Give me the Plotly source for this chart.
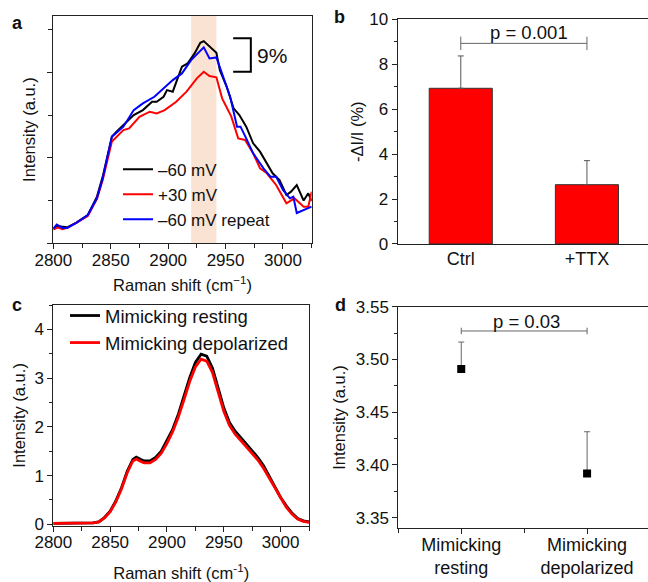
import plotly.graph_objects as go

# ---------------- Panel a data ----------------
a_black_x = [2800, 2803, 2812, 2820, 2830, 2838, 2843, 2851, 2855, 2861, 2870, 2878, 2886, 2890, 2896, 2899,
             2904, 2912, 2917, 2923, 2928, 2931, 2936, 2942, 2945, 2951, 2957, 2962, 2968, 2974, 2980, 2986,
             2991, 2997, 3003, 3007, 3012, 3018, 3022, 3025]
a_black_y = [0.175, 0.203, 0.187, 0.242, 0.331, 0.546, 0.780, 1.248, 1.306, 1.384, 1.501, 1.559, 1.657, 1.657,
             1.715, 1.793, 1.774, 2.066, 2.105, 2.222, 2.347, 2.366, 2.300, 2.230, 2.027, 1.832, 1.579, 1.501,
             1.365, 1.170, 1.072, 0.936, 0.819, 0.741, 0.565, 0.604, 0.682, 0.500, 0.585, 0.495]
a_red_x = [2800, 2804, 2808, 2812, 2820, 2830, 2838, 2843, 2851, 2861, 2866, 2875, 2884, 2890, 2897, 2907,
           2916, 2925, 2931, 2936, 2942, 2947, 2955, 2961, 2967, 2974, 2980, 2986, 2994, 3003, 3010, 3018,
           3022, 3025]
a_red_y = [0.160, 0.185, 0.165, 0.180, 0.240, 0.320, 0.520, 0.740, 1.190, 1.325, 1.345, 1.481, 1.540, 1.520,
           1.559, 1.657, 1.774, 1.930, 2.008, 1.957, 1.942, 1.696, 1.482, 1.228, 1.209, 1.053, 0.877, 0.819,
           0.682, 0.468, 0.526, 0.429, 0.429, 0.604]
a_blue_x = [2800, 2803, 2808, 2812, 2820, 2830, 2838, 2843, 2851, 2861, 2870, 2878, 2888, 2896, 2904, 2912,
            2920, 2931, 2936, 2942, 2948, 2954, 2960, 2963, 2968, 2974, 2983, 2989, 2994, 3000, 3006, 3009,
            3012, 3025]
a_blue_y = [0.170, 0.220, 0.180, 0.180, 0.240, 0.330, 0.530, 0.760, 1.248, 1.365, 1.559, 1.637, 1.715, 1.813,
            1.910, 1.988, 2.144, 2.293, 2.164, 2.175, 1.949, 1.715, 1.365, 1.365, 1.228, 1.053, 0.877, 0.780,
            0.780, 0.624, 0.526, 0.546, 0.354, 0.429]
a_names = ["\u201360 mV", "+30 mV", "\u201360 mV repeat"]
a_band = [2920, 2942]

# ---------------- Panel b data ----------------
b_groups = ["Ctrl", "+TTX"]
b_values = [6.93, 2.64]
b_err = [1.44, 1.07]
b_p = "p = 0.001"

# ---------------- Panel c data ----------------
c_shift = [2800, 2810, 2820, 2830, 2835, 2840, 2845, 2850, 2855, 2860, 2865, 2870, 2873, 2877, 2880, 2885,
           2890, 2895, 2900, 2905, 2910, 2915, 2920, 2925, 2930, 2935, 2940, 2945, 2950, 2955, 2960, 2965,
           2970, 2975, 2980, 2985, 2990, 2995, 3000, 3005, 3010, 3015, 3020, 3025]
c_resting = [0.02, 0.02, 0.02, 0.02, 0.03, 0.05, 0.14, 0.27, 0.48, 0.75, 1.09, 1.33, 1.38, 1.33, 1.30, 1.30,
             1.37, 1.50, 1.71, 1.95, 2.26, 2.63, 3.01, 3.32, 3.49, 3.45, 3.21, 2.80, 2.39, 2.09, 1.91, 1.78,
             1.64, 1.50, 1.37, 1.20, 0.99, 0.79, 0.55, 0.38, 0.23, 0.12, 0.07, 0.05]
c_depol = [0.02, 0.02, 0.02, 0.02, 0.03, 0.05, 0.13, 0.26, 0.46, 0.73, 1.06, 1.30, 1.34, 1.29, 1.26, 1.26,
           1.33, 1.46, 1.66, 1.90, 2.20, 2.56, 2.93, 3.23, 3.39, 3.35, 3.12, 2.72, 2.32, 2.03, 1.85, 1.72,
           1.58, 1.45, 1.32, 1.15, 0.95, 0.75, 0.52, 0.35, 0.21, 0.11, 0.06, 0.04]
c_names = ["Mimicking resting", "Mimicking depolarized"]

# ---------------- Panel d data ----------------
d_groups = ["Mimicking<br>resting", "Mimicking<br>depolarized"]
d_values = [3.491, 3.392]
d_err = [0.0255, 0.0395]
d_p = "p = 0.03"

FONT = "Arial, Liberation Sans, sans-serif"
AX = "#222222"

fig = go.Figure()

# Panel a traces
for xs, ys, col, nm in [(a_black_x, a_black_y, "black", a_names[0]),
                        (a_red_x, a_red_y, "#ff0000", a_names[1]),
                        (a_blue_x, a_blue_y, "#0000ff", a_names[2])]:
    fig.add_trace(go.Scatter(x=xs, y=ys, mode="lines", name=nm, line=dict(color=col, width=2),
                             xaxis="x", yaxis="y", legend="legend"))

# Panel b bars
b_pos = list(range(1, len(b_groups) + 1))
fig.add_trace(go.Bar(x=b_pos, y=b_values, width=0.5, marker=dict(color="#ff0000", line=dict(color="#333333", width=1)),
                     error_y=dict(type="data", symmetric=False, array=b_err, arrayminus=[0] * len(b_err),
                                  color="#555555", thickness=1, width=3),
                     showlegend=False, xaxis="x2", yaxis="y2"))

# Panel c traces
for ys, col, nm in [(c_resting, "black", c_names[0]), (c_depol, "#ff0000", c_names[1])]:
    fig.add_trace(go.Scatter(x=c_shift, y=ys, mode="lines", name=nm, line=dict(color=col, width=2.8),
                             xaxis="x3", yaxis="y3", legend="legend2"))

# Panel d points
d_pos = list(range(1, len(d_groups) + 1))
fig.add_trace(go.Scatter(x=d_pos, y=d_values, mode="markers", marker=dict(symbol="square", size=8, color="black"),
                         error_y=dict(type="data", symmetric=False, array=d_err, arrayminus=[0] * len(d_err),
                                      color="#666666", thickness=1, width=3),
                         showlegend=False, xaxis="x4", yaxis="y4"))

tickfont = dict(family=FONT, size=17, color="#111")
catfont = dict(family=FONT, size=18, color="#111")
titlefont = dict(family=FONT, size=16.5, color="#111")

def axis(**kw):
    base = dict(showline=True, linecolor=AX, linewidth=1, ticks="outside", tickcolor=AX, ticklen=5,
                tickwidth=1, showgrid=False, zeroline=False, tickfont=tickfont, automargin=False)
    base.update(kw)
    return base

shapes = []
annotations = []

# Panel a band + scale bar
shapes.append(dict(type="rect", xref="x", yref="y domain", x0=a_band[0], x1=a_band[1], y0=0, y1=1,
                   fillcolor="#fbe3d4", line=dict(width=0), layer="below"))
shapes.append(dict(type="path", xref="x", yref="y", path="M 2956.6,2.40 L 2972,2.40 L 2972,2.007 L 2956.6,2.007",
                   line=dict(color="black", width=2)))
annotations.append(dict(text="9%", x=2976, y=2.2, xref="x", yref="y", xanchor="left", yanchor="middle",
                        showarrow=False, font=dict(family=FONT, size=21, color="#111")))

# significance brackets
def bracket(xr, yr, y, h, x0, x1):
    shapes.append(dict(type="line", xref=xr, yref=yr, x0=x0, x1=x1, y0=y, y1=y, line=dict(color="#666", width=1)))
    for xx in (x0, x1):
        shapes.append(dict(type="line", xref=xr, yref=yr, x0=xx, x1=xx, y0=y - h, y1=y + h,
                           line=dict(color="#666", width=1)))

bracket("x2", "y2", 8.93, 0.3, b_pos[0], b_pos[1])
annotations.append(dict(text=b_p, x=1.54, y=9.43, xref="x2", yref="y2", showarrow=False,
                        font=dict(family=FONT, size=18.5, color="#111")))
bracket("x4", "y4", 3.527, 0.0031, d_pos[0], d_pos[1])
annotations.append(dict(text=d_p, x=1.52, y=3.5364, xref="x4", yref="y4", showarrow=False,
                        font=dict(family=FONT, size=18.5, color="#111")))

# Panel letters
for lt, px, py in [("a", 17.5, 23.5), ("b", 339, 17), ("c", 17, 305), ("d", 340, 305)]:
    annotations.append(dict(text="<b>%s</b>" % lt, x=px / 648, y=1 - py / 582, xref="paper", yref="paper",
                            showarrow=False, xanchor="center", yanchor="middle",
                            font=dict(family=FONT, size=18, color="#111")))

fig.update_layout(
    template="none",
    width=648, height=582, autosize=False,
    margin=dict(l=0, r=0, t=0, b=0, pad=0),
    paper_bgcolor="white", plot_bgcolor="white",
    font=dict(family=FONT, color="#111"),
    showlegend=True,
    # panel a
    xaxis=axis(domain=[0.0823, 0.4810], range=[2800, 3025], dtick=50, mirror=True, ticklabelstandoff=-4,
               minor=dict(dtick=25, ticks="outside", ticklen=4, tickcolor=AX),
               title=dict(text="Raman shift (cm<sup>\u22121</sup>)", font=titlefont, standoff=10), anchor="y"),
    yaxis=axis(domain=[0.5820, 0.9725], range=[0, 2.66], dtick=1, showticklabels=False, mirror=True,
               minor=dict(dtick=0.5, ticks="outside", ticklen=4, tickcolor=AX),
               title=dict(text="Intensity (a.u.)", font=titlefont, standoff=7), anchor="x"),
    # panel b
    xaxis2=axis(domain=[0.6137, 1.0], range=[0.5, 2.484], tickvals=b_pos, ticktext=b_groups, ticks="",
                tickfont=catfont, mirror=True, ticklabelstandoff=-2, anchor="y2"),
    yaxis2=axis(domain=[0.5808, 0.9668], range=[0, 10], dtick=2,
                minor=dict(dtick=1, ticks="outside", ticklen=3, tickcolor=AX),
                title=dict(text="-\u0394I/I (%)", font=titlefont, standoff=1), anchor="x2"),
    # panel c
    xaxis3=axis(domain=[0.0823, 0.4769], range=[2800, 3025], dtick=50, mirror=True, ticklabelstandoff=-4,
                minor=dict(dtick=25, ticks="outside", ticklen=4, tickcolor=AX),
                title=dict(text="Raman shift (cm<sup>-1</sup>)", font=titlefont, standoff=16), anchor="y3"),
    yaxis3=axis(domain=[0.0966, 0.4759], range=[-0.03, 4.5], dtick=1, mirror=True,
                minor=dict(dtick=0.5, ticks="outside", ticklen=3, tickcolor=AX),
                title=dict(text="Intensity (a.u.)", font=titlefont, standoff=4), anchor="x3"),
    # panel d
    xaxis4=axis(domain=[0.6147, 1.0], range=[0.5, 2.484], tickvals=d_pos, ticktext=d_groups,
                tickfont=catfont, mirror=True, ticklabelstandoff=-5,
                minor=dict(dtick=0.5, ticks="outside", ticklen=4, tickcolor=AX), anchor="y4"),
    yaxis4=axis(domain=[0.0923, 0.4730], range=[3.34, 3.55], dtick=0.05, tickformat=".2f",
                minor=dict(dtick=0.025, ticks="outside", ticklen=3, tickcolor=AX),
                title=dict(text="Intensity (a.u.)", font=titlefont, standoff=6), anchor="x4"),
    legend=dict(x=118 / 648, y=0.7395, xanchor="left", yanchor="top", bgcolor="rgba(0,0,0,0)",
                font=dict(family=FONT, size=17, color="#111"), tracegroupgap=0),
    legend2=dict(x=65 / 648, y=0.4897, xanchor="left", yanchor="top", bgcolor="rgba(0,0,0,0)",
                 font=dict(family=FONT, size=18.5, color="#111"), tracegroupgap=0),
    shapes=shapes,
    annotations=annotations,
)

fig.write_html("out.html")
